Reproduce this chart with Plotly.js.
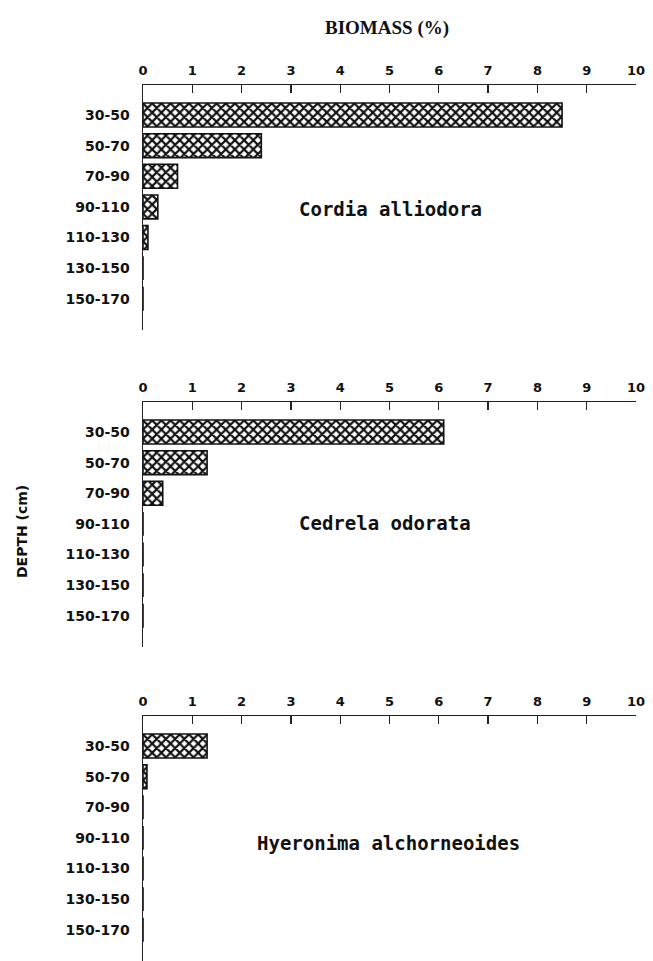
<!DOCTYPE html>
<html>
<head>
<meta charset="utf-8">
<script src="https://cdn.plot.ly/plotly-3.0.1.min.js"></script>
<style>html,body{margin:0;padding:0;background:#fff;}#chart{width:653px;height:961px;}</style>
</head>
<body>
<div id="chart"></div>
<script>
// ---- data ----
var depths = ['30-50','50-70','70-90','90-110','110-130','130-150','150-170'];
var cordia = [8.5, 2.4, 0.7, 0.3, 0.1, 0, 0];
var cedrela = [6.1, 1.3, 0.4, 0, 0, 0, 0];
var hyeronima = [1.3, 0.08, 0, 0, 0, 0, 0];
var species = ['Cordia alliodora', 'Cedrela odorata', 'Hyeronima alchorneoides'];
var xTicks = [0,1,2,3,4,5,6,7,8,9,10];

var H = 961, W = 653;
var panelTops = [85, 402, 716];
var panelH = 245;
var series = [cordia, cedrela, hyeronima];

var traces = series.map(function(vals, i){
  var s = i === 0 ? '' : String(i+1);
  return {
    type: 'bar', orientation: 'h',
    x: vals, y: depths,
    xaxis: 'x' + s, yaxis: 'y' + s,
    width: 0.78,
    marker: {
      color: '#ffffff',
      line: {color: '#111', width: 1.6},
      pattern: {shape: 'x', fgcolor: '#111', bgcolor: '#ffffff', size: 6.5, solidity: 0.55}
    },
    hoverinfo: 'skip', showlegend: false
  };
});

var layout = {
  width: W, height: H,
  margin: {l:0, r:0, t:0, b:0},
  paper_bgcolor: '#fff', plot_bgcolor: '#fff',
  annotations: []
};

var yTickFont = {family: 'DejaVu Sans, sans-serif', size: 14, color: '#111', weight: 'bold'};
var xTickFont = {family: 'DejaVu Sans, sans-serif', size: 13, color: '#111', weight: 'bold'};

panelTops.forEach(function(top, i){
  var s = i === 0 ? '' : String(i+1);
  var y0 = 1 - (top + panelH)/H, y1 = 1 - top/H;
  layout['xaxis' + s] = {
    domain: [143/W, 636/W], anchor: 'y' + s, side: 'top',
    range: [0, 10], tickvals: xTicks, ticktext: xTicks.map(String),
    showline: true, linecolor: '#222', linewidth: 1.5,
    ticks: 'inside', ticklen: 8, tickwidth: 1.3, tickcolor: '#222',
    ticklabelstandoff: 3,
    showgrid: false, zeroline: false, tickfont: xTickFont, fixedrange: true
  };
  layout['yaxis' + s] = {
    domain: [y0, y1], anchor: 'x' + s,
    type: 'category', categoryarray: depths, range: [7.02, -0.98],
    showline: true, linecolor: '#222', linewidth: 1.5,
    ticks: '', ticklabelstandoff: 9,
    showgrid: false, zeroline: false, tickfont: yTickFont, fixedrange: true
  };
});

var annPos = [[390, 209], [385, 523], [388, 843]];
species.forEach(function(name, i){
  layout.annotations.push({
    text: name, xref: 'paper', yref: 'paper',
    x: annPos[i][0]/W, y: 1 - annPos[i][1]/H,
    xanchor: 'center', yanchor: 'middle', showarrow: false,
    font: {family: 'DejaVu Sans Mono, monospace', size: 19, color: '#111', weight: 'bold'}
  });
});

layout.annotations.push({
  text: 'BIOMASS (%)', xref: 'paper', yref: 'paper',
  x: 387/W, y: 1 - 28/H, xanchor: 'center', yanchor: 'middle', showarrow: false,
  font: {family: 'Liberation Serif, serif', size: 19, color: '#111', weight: 'bold'}
});
layout.annotations.push({
  text: 'DEPTH (cm)', xref: 'paper', yref: 'paper',
  x: 22/W, y: 1 - 532/H, xanchor: 'center', yanchor: 'middle', showarrow: false,
  textangle: -90,
  font: {family: 'DejaVu Sans, sans-serif', size: 14, color: '#111', weight: 'bold'}
});

Plotly.newPlot('chart', traces, layout, {displayModeBar: false, staticPlot: true});
</script>
</body>
</html>
